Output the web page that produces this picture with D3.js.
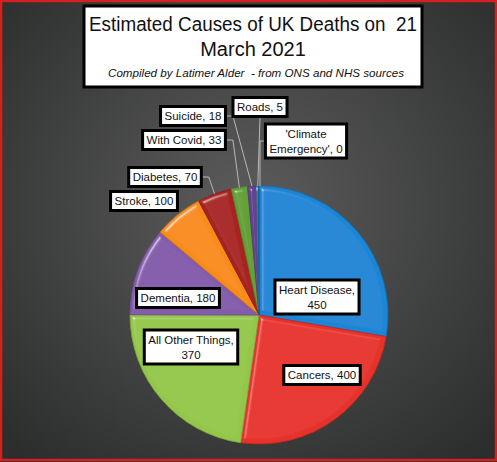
<!DOCTYPE html>
<html>
<head>
<meta charset="utf-8">
<title>UK Deaths Pie</title>
<script src="https://d3js.org/d3.v7.min.js"></script>
<style>body{margin:0;background:#fff}</style>
</head>
<body>
<svg width="497" height="462" id="mainsvg"></svg>
<script>
// data, clockwise from 12 o'clock
const categories = ['Heart Disease','Cancers','All Other Things','Dementia','Stroke','Diabetes','With Covid','Suicide','Roads',"'Climate Emergency'"];
const deaths = [450,400,370,180,100,70,33,18,5,0];
const colours = ['#1a86d6','#e6302a','#94c648','#845cab','#f88c16','#a82220','#64a034','#644290','#19699f','#17607a'];

const titleLines = ['Estimated Causes of UK Deaths on  21','March 2021'];
const subtitle = 'Compiled by Latimer Alder  - from ONS and NHS sources';

// label boxes: centre offset from pie centre, text lines, which side the leader leaves from
const labelLayout = {
  'Heart Disease':      {dx: 58,  dy: -18, lines: ['Heart Disease,','450']},
  'Cancers':            {dx: 63,  dy: 60,  lines: ['Cancers, 400']},
  'All Other Things':   {dx: -68, dy: 32,  lines: ['All Other Things,','370']},
  'Dementia':           {dx: -81, dy: -17, lines: ['Dementia, 180']},
  'Stroke':             {dx: -115,dy: -114,lines: ['Stroke, 100']},
  'Diabetes':           {dx: -94, dy: -138,lines: ['Diabetes, 70'], leader: 'right'},
  'With Covid':         {dx: -75, dy: -175,lines: ['With Covid, 33'], leader: 'right'},
  'Suicide':            {dx: -66, dy: -199,lines: ['Suicide, 18'], leader: 'right'},
  'Roads':              {dx: 1,   dy: -208,lines: ['Roads, 5'], leader: 'bottom'},
  "'Climate Emergency'":{dx: 47,  dy: -174,lines: ["'Climate","Emergency', 0"], leader: 'left'}
};

const svg = d3.select('#mainsvg');
const width = +svg.attr('width');
const height = +svg.attr('height');
const cx = 259, cy = 315, radius = 129;

const defs = svg.append('defs');
const bg = defs.append('radialGradient').attr('id','bg')
  .attr('cx','50%').attr('cy','45%').attr('r','70%');
bg.append('stop').attr('offset','0%').attr('stop-color','#5c5c5c');
bg.append('stop').attr('offset','100%').attr('stop-color','#2c2d2d');

// soft bevel on the slice edges
const bevel = defs.append('filter').attr('id','bevel')
  .attr('x','-10%').attr('y','-10%').attr('width','120%').attr('height','120%');
bevel.append('feGaussianBlur').attr('in','SourceAlpha').attr('stdDeviation',2).attr('result','blur');
const spec = bevel.append('feSpecularLighting').attr('in','blur')
  .attr('surfaceScale',5).attr('specularConstant',0.9).attr('specularExponent',30)
  .attr('lighting-color','#ffffff').attr('result','spec');
spec.append('feDistantLight').attr('azimuth',225).attr('elevation',35);
bevel.append('feComposite').attr('in','spec').attr('in2','SourceAlpha').attr('operator','in').attr('result','specOut');
bevel.append('feComposite').attr('in','SourceGraphic').attr('in2','specOut')
  .attr('operator','arithmetic').attr('k1',0).attr('k2',1).attr('k3',0.5).attr('k4',0);

// background + red frame
svg.append('rect').attr('x',0).attr('y',0).attr('width',width).attr('height',height).attr('fill','url(#bg)');
svg.append('rect').attr('x',1).attr('y',1).attr('width',width-2).attr('height',height-3)
  .attr('fill','none').attr('stroke','#d6201e').attr('stroke-width',2.5);

// title box
const tg = svg.append('g');
tg.append('rect').attr('x',84).attr('y',6).attr('width',338).attr('height',81)
  .attr('fill','#fff').attr('stroke','#000').attr('stroke-width',3);
tg.selectAll('text.title').data(titleLines).join('text').attr('class','title')
  .attr('x',253).attr('y',(d,i) => 31 + i*25)
  .attr('text-anchor','middle')
  .attr('font-family','Liberation Sans, Arial, sans-serif')
  .attr('font-size',20).attr('fill','#111')
  .style('white-space','pre')
  .text(d => d)
  .each(function(d,i){ if(i===0){ d3.select(this).attr('textLength',328).attr('lengthAdjust','spacingAndGlyphs'); } });
tg.append('text').attr('x',256).attr('y',77).attr('text-anchor','middle')
  .attr('font-family','Liberation Sans, Arial, sans-serif').attr('font-style','italic')
  .attr('font-size',11.5).attr('fill','#111')
  .style('white-space','pre')
  .attr('textLength',296).attr('lengthAdjust','spacingAndGlyphs')
  .text(subtitle);

// pie
const data = categories.map((c,i) => ({name: c, value: deaths[i], colour: colours[i]}));
const pie = d3.pie().sort(null).value(d => d.value);
const arcs = pie(data);
const arc = d3.arc().innerRadius(0).outerRadius(radius);

const g = svg.append('g').attr('transform',`translate(${cx},${cy})`);
g.selectAll('path.slice').data(arcs.filter(a => a.data.value > 0)).join('path')
  .attr('class','slice')
  .attr('d', arc)
  .attr('fill', d => d.data.colour)
  .attr('stroke', d => d3.color(d.data.colour).darker(0.5))
  .attr('stroke-width',0.8)
  .attr('filter','url(#bevel)');

// leader lines and label boxes
const font = 'Liberation Sans, Arial, sans-serif';
const lg = svg.append('g').attr('transform',`translate(${cx},${cy})`);
arcs.forEach(a => {
  const L = labelLayout[a.data.name];
  const grp = lg.append('g').attr('transform',`translate(${L.dx},${L.dy})`);
  const lh = 15;
  const t = grp.append('text').attr('text-anchor','middle')
    .attr('font-family',font).attr('font-size',11.5).attr('fill','#111');
  L.lines.forEach((s,i) => {
    t.append('tspan').attr('x',0).attr('y', (i - (L.lines.length-1)/2)*lh + 4).text(s);
  });
  const bb = t.node().getBBox();
  const w = bb.width + 8, h = L.lines.length*lh + 4;
  grp.insert('rect','text').attr('x',-w/2).attr('y',-h/2).attr('width',w).attr('height',h)
    .attr('fill','#fff').attr('stroke','#000').attr('stroke-width',3);

  if (L.leader) {
    const mid = (a.startAngle + a.endAngle)/2;
    const px = radius*Math.sin(mid), py = -radius*Math.cos(mid);
    let pts;
    if (L.leader === 'right') {
      const sx = L.dx + w/2 + 1.5, sy = L.dy;
      pts = [[sx,sy],[sx+6,sy],[px,py]];
    } else if (L.leader === 'left') {
      const sx = L.dx - w/2 - 1.5, sy = L.dy;
      pts = [[sx,sy],[px+1,sy],[px+1,py]];
    } else {
      const sx = L.dx, sy = L.dy + h/2 + 1.5;
      pts = [[sx,sy],[px,py]];
    }
    lg.insert('path',':first-child').attr('d', d3.line()(pts))
      .attr('fill','none').attr('stroke','#b8b8b8').attr('stroke-width',1);
  }
});
</script>
</body>
</html>
